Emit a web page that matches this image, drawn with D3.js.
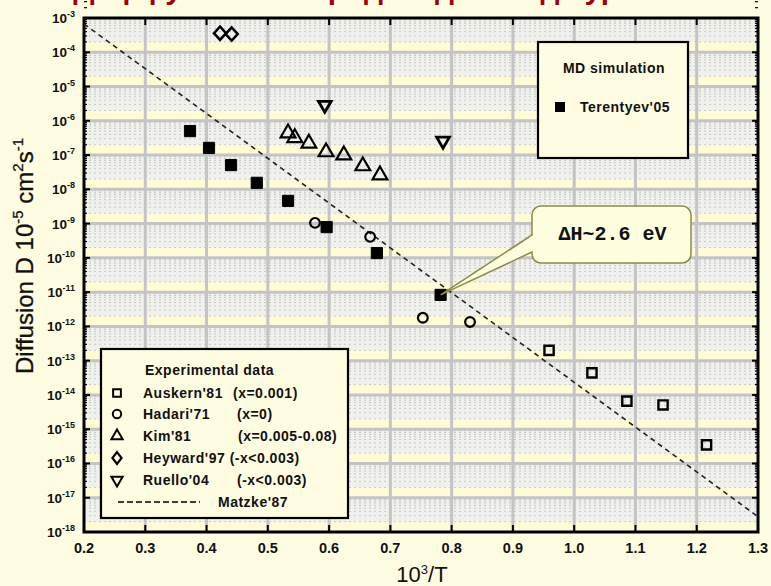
<!DOCTYPE html>
<html>
<head>
<meta charset="utf-8">
<script src="https://cdn.jsdelivr.net/npm/d3@7"></script>
<style>
  html, body { margin: 0; padding: 0; background: #fffde1; }
  svg { display: block; font-family: "Liberation Sans", Arial, sans-serif; }
</style>
</head>
<body>
<svg id="chart" width="771" height="586"></svg>
<script>
// Oxygen diffusion in UO2+x: experimental data, MD simulation and Matzke'87 fit
const xTicks = [0.2, 0.3, 0.4, 0.5, 0.6, 0.7, 0.8, 0.9, 1.0, 1.1, 1.2, 1.3];
const decades = d3.range(-3, -19, -1);          // 10^-3 ... 10^-18

// [10^3/T, D]
const terentyev05 = [[0.373, 5.0e-7], [0.404, 1.62e-7], [0.440, 5.1e-8], [0.482, 1.55e-8],
                     [0.533, 4.6e-9], [0.596, 7.9e-10], [0.678, 1.38e-10], [0.782, 8.3e-12]];
const auskern81 = [[0.959, 2.0e-13], [1.029, 4.4e-14], [1.086, 6.6e-15], [1.145, 5.1e-15], [1.216, 3.5e-16]];
const hadari71  = [[0.577, 1.05e-9], [0.667, 4.1e-10], [0.753, 1.78e-12], [0.830, 1.35e-12]];
const kim81     = [[0.533, 4.4e-7], [0.544, 3.2e-7], [0.567, 2.2e-7], [0.595, 1.23e-7],
                   [0.624, 1.0e-7], [0.655, 4.8e-8], [0.683, 2.6e-8]];
const heyward97 = [[0.422, 3.6e-4], [0.441, 3.4e-4]];
const ruello04  = [[0.593, 2.9e-6], [0.786, 2.6e-7]];
const matzke87  = [[0.2, 6.7e-4], [1.3, 2.8e-18]];

const expLabels = [
  ["Auskern'81", "(x=0.001)"],
  ["Hadari'71", "(x=0)"],
  ["Kim'81", "(x=0.005-0.08)"],
  ["Heyward'97 (-x<0.003)", ""],
  ["Ruello'04", "(-x<0.003)"]
];
const calloutText = "\u0394H~2.6 eV";
const calloutPoint = terentyev05[7];

const svg = d3.select("#chart");
const margin = {left: 84, top: 18, right: 13, bottom: 54};
const W = 771 - margin.left - margin.right;
const H = 586 - margin.top - margin.bottom;

const x = d3.scaleLinear().domain([0.2, 1.3]).range([margin.left, margin.left + W]);
const y = d3.scaleLog().domain([1e-18, 1e-3]).range([margin.top + H, margin.top]);

// title: runs off the top edge, only its descenders reach the page
svg.append("text")
  .attr("x", 372).attr("y", -1)
  .attr("text-anchor", "middle")
  .attr("font-size", 30).attr("font-weight", "bold")
  .attr("fill", "#a00010")
  .text("Диффузия кислорода в диоксиде урана");

// plot background
const plot = svg.append("g");
plot.append("rect")
  .attr("x", margin.left).attr("y", margin.top)
  .attr("width", W).attr("height", H)
  .attr("fill", "#fffbd6");

// grey zone of each decade (between 2x and 10x), plus dotted minor lines
decades.slice(1).forEach(e => {
  const lo = Math.pow(10, e);
  plot.append("rect")
    .attr("x", margin.left).attr("y", y(lo * 10))
    .attr("width", W).attr("height", y(lo * 2) - y(lo * 10))
    .attr("fill", "#f0f0ed");
  for (let k = 2; k <= 9; k++) {
    plot.append("line")
      .attr("x1", margin.left).attr("x2", margin.left + W)
      .attr("y1", y(lo * k)).attr("y2", y(lo * k))
      .attr("stroke", "#c8c8c4").attr("stroke-width", 1)
      .attr("stroke-dasharray", "2,3");
  }
});

// major grid
plot.selectAll(".vgrid").data(xTicks.slice(1, -1)).join("line")
  .attr("x1", d => x(d)).attr("x2", d => x(d))
  .attr("y1", margin.top).attr("y2", margin.top + H)
  .attr("stroke", "#c4c4c4").attr("stroke-width", 3);
plot.selectAll(".hgrid").data(decades.slice(1, -1)).join("line")
  .attr("x1", margin.left).attr("x2", margin.left + W)
  .attr("y1", d => y(Math.pow(10, d))).attr("y2", d => y(Math.pow(10, d)))
  .attr("stroke", "#c4c4c4").attr("stroke-width", 3);

// ticks: inward, on all four sides
const tk = svg.append("g").attr("stroke", "#000");
xTicks.slice(1, -1).forEach(t => {
  tk.append("line").attr("x1", x(t)).attr("x2", x(t))
    .attr("y1", margin.top + H).attr("y2", margin.top + H - 7).attr("stroke-width", 2);
  tk.append("line").attr("x1", x(t)).attr("x2", x(t))
    .attr("y1", margin.top).attr("y2", margin.top + 7).attr("stroke-width", 2);
});
decades.forEach(e => {
  const v = Math.pow(10, e);
  [margin.left, margin.left + W].forEach((xx, i) => {
    const dir = i === 0 ? 1 : -1;
    tk.append("line").attr("x1", xx).attr("x2", xx + dir * 6)
      .attr("y1", y(v)).attr("y2", y(v)).attr("stroke-width", 2);
    if (e > -18) {
      for (let k = 2; k <= 9; k++) {
        tk.append("line").attr("x1", xx).attr("x2", xx + dir * 3)
          .attr("y1", y(v * k)).attr("y2", y(v * k)).attr("stroke-width", 1.2);
      }
    }
  });
});

// frame
svg.append("rect")
  .attr("x", margin.left).attr("y", margin.top)
  .attr("width", W).attr("height", H)
  .attr("fill", "none").attr("stroke", "#000").attr("stroke-width", 3);

// x tick labels
svg.selectAll(".xl").data(xTicks).join("text")
  .attr("x", d => x(d)).attr("y", margin.top + H + 21)
  .attr("text-anchor", "middle")
  .attr("font-size", 14.5).attr("font-weight", "bold").attr("fill", "#111")
  .text(d => d.toFixed(1));

// y tick labels as 10^n
decades.forEach(e => {
  const t = svg.append("text")
    .attr("x", 75).attr("y", y(Math.pow(10, e)) + 5)
    .attr("text-anchor", "end")
    .attr("font-size", 13.5).attr("font-weight", "bold").attr("fill", "#111");
  t.append("tspan").text("10");
  t.append("tspan").attr("dy", -6).attr("font-size", 9).text(String(e));
});

// axis titles
const xt = svg.append("text")
  .attr("x", 422).attr("y", 582)
  .attr("text-anchor", "middle")
  .attr("font-size", 22).attr("fill", "#111");
xt.append("tspan").text("10");
xt.append("tspan").attr("dy", -8).attr("font-size", 13).text("3");
xt.append("tspan").attr("dy", 8).text("/T");

const yt = svg.append("text")
  .attr("transform", "translate(33,256) rotate(-90)")
  .attr("text-anchor", "middle")
  .attr("font-size", 24).attr("fill", "#111")
  .attr("stroke", "#111").attr("stroke-width", 0.3);
yt.append("tspan").text("Diffusion D 10");
yt.append("tspan").attr("dy", -10).attr("font-size", 15).text("-5");
yt.append("tspan").attr("dy", 10).text(" cm");
yt.append("tspan").attr("dy", -10).attr("font-size", 15).text("2");
yt.append("tspan").attr("dy", 10).text("s");
yt.append("tspan").attr("dy", -10).attr("font-size", 15).text("-1");

// Matzke'87 line
const line = d3.line().x(d => x(d[0])).y(d => y(d[1]));
svg.append("path").datum(matzke87)
  .attr("d", line)
  .attr("fill", "none").attr("stroke", "#222")
  .attr("stroke-width", 1.6).attr("stroke-dasharray", "5,4");

// markers
function drawSeries(data, type, opts) {
  const sym = d3.symbol().type(type).size(opts.size);
  svg.append("g").selectAll("path").data(data).join("path")
    .attr("d", sym)
    .attr("transform", d => `translate(${x(d[0])},${y(d[1])})` + (opts.extra || ""))
    .attr("fill", opts.fill || "none")
    .attr("stroke", "#000")
    .attr("stroke-width", opts.sw || 2);
}
drawSeries(auskern81, d3.symbolSquare, {size: 85, sw: 2.4});
drawSeries(hadari71, d3.symbolCircle, {size: 75, sw: 2.2});
drawSeries(kim81, d3.symbolTriangle, {size: 95, sw: 2.2});
drawSeries(heyward97, d3.symbolDiamond, {size: 70, sw: 2.2, extra: " scale(1.35,0.85)"});
drawSeries(ruello04, d3.symbolTriangle, {size: 70, sw: 2.8, extra: " rotate(180)"});
drawSeries(terentyev05, d3.symbolSquare, {size: 125, fill: "#000", sw: 1});

// shared legend text style
function legendText(sel, xx, yy, txt, anchor) {
  return sel.append("text").attr("x", xx).attr("y", yy)
    .attr("text-anchor", anchor || "start")
    .attr("font-size", 14).attr("font-weight", "bold").attr("letter-spacing", 0.5)
    .attr("fill", "#111")
    .text(txt);
}

// experimental data legend
const lg = svg.append("g");
lg.append("rect").attr("x", 101).attr("y", 349).attr("width", 247).attr("height", 169)
  .attr("fill", "#fffde1").attr("stroke", "#000").attr("stroke-width", 2.2);
legendText(lg, 145, 375, "Experimental data");
const legendSyms = [
  {type: d3.symbolSquare, size: 60, extra: ""},
  {type: d3.symbolCircle, size: 55, extra: ""},
  {type: d3.symbolTriangle, size: 55, extra: ""},
  {type: d3.symbolDiamond, size: 50, extra: " scale(1.2,0.9)"},
  {type: d3.symbolTriangle, size: 55, extra: " rotate(180)"}
];
const rowY = [393, 414, 436, 458, 480];
const col2 = [233, 237, 238, 0, 237];
expLabels.forEach((lab, i) => {
  lg.append("path").attr("d", d3.symbol().type(legendSyms[i].type).size(legendSyms[i].size))
    .attr("transform", `translate(117,${rowY[i]})${legendSyms[i].extra}`)
    .attr("fill", "none").attr("stroke", "#000").attr("stroke-width", 2);
  legendText(lg, 143, rowY[i] + 5, lab[0]);
  if (lab[1]) legendText(lg, col2[i], rowY[i] + 5, lab[1]);
});
lg.append("line").attr("x1", 118).attr("x2", 200).attr("y1", 502).attr("y2", 502)
  .attr("stroke", "#000").attr("stroke-width", 1.6).attr("stroke-dasharray", "6,3");
legendText(lg, 218, 507, "Matzke'87");

// MD simulation legend
const md = svg.append("g");
md.append("rect").attr("x", 538).attr("y", 42).attr("width", 150).attr("height", 116)
  .attr("fill", "#fffde1").attr("stroke", "#000").attr("stroke-width", 2.2);
legendText(md, 614, 73, "MD simulation", "middle");
md.append("path").attr("d", d3.symbol().type(d3.symbolSquare).size(100))
  .attr("transform", "translate(560,107)").attr("fill", "#000");
legendText(md, 580, 112, "Terentyev'05");

// activation-energy callout
const px = x(calloutPoint[0]), py = y(calloutPoint[1]);
const bx = 532, by = 206, bw = 159, bh = 57, r = 9;
const tail = [[bx, by + 29], [px, py], [bx, by + 46]];
const cg = svg.append("g");
cg.append("rect").attr("x", bx).attr("y", by).attr("width", bw).attr("height", bh)
  .attr("rx", r).attr("fill", "#ffffe0").attr("stroke", "#8c8a4a").attr("stroke-width", 1.5);
cg.append("path").attr("d", d3.line()(tail))
  .attr("fill", "#ffffe0").attr("stroke", "#8c8a4a").attr("stroke-width", 1.5);
cg.append("line").attr("x1", bx).attr("x2", bx).attr("y1", by + 30).attr("y2", by + 45)
  .attr("stroke", "#ffffe0").attr("stroke-width", 2.5);
cg.append("text").attr("x", bx + bw / 2 + 1).attr("y", by + 34)
  .attr("text-anchor", "middle")
  .style("font-family", "'Liberation Mono', 'DejaVu Sans Mono', monospace")
  .attr("font-size", 20).attr("font-weight", "bold").attr("fill", "#111")
  .text(calloutText);
</script>
</body>
</html>
